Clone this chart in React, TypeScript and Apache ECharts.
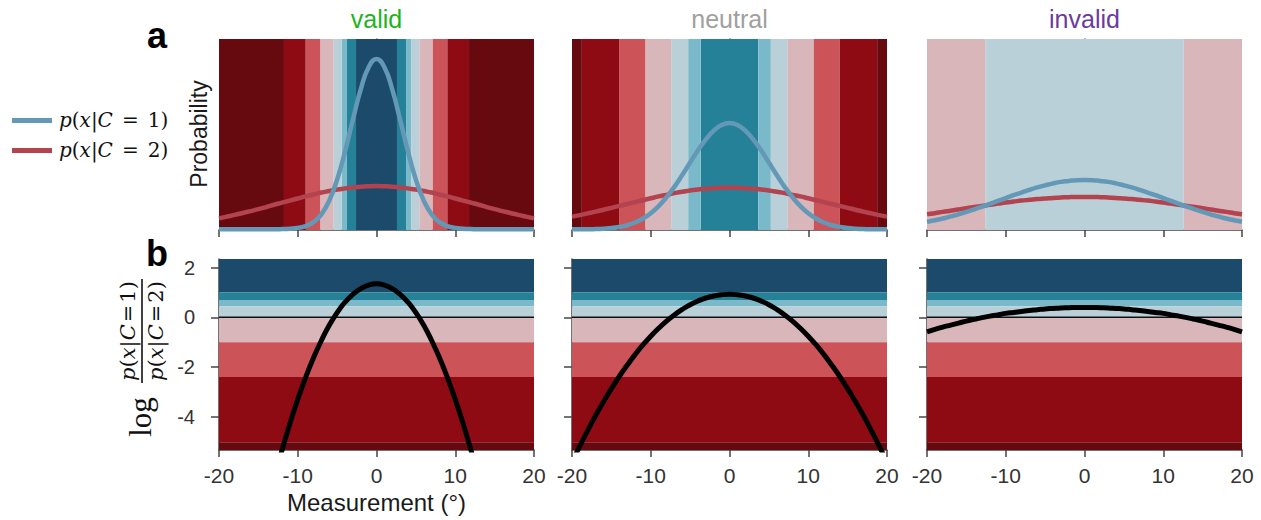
import React, { useEffect, useRef } from "react";
import * as echarts from "echarts";

// sample positions (degrees)
const X = [-20, -19, -18, -17, -16, -15, -14, -13, -12, -11, -10, -9, -8, -7, -6, -5, -4, -3, -2, -1, 0,
  1, 2, 3, 4, 5, 6, 7, 8, 9, 10, 11, 12, 13, 14, 15, 16, 17, 18, 19, 20];

// top row: probability densities (fraction of panel height)
const VALID_BLUE = [0.004, 0.004, 0.004, 0.004, 0.004, 0.004, 0.004, 0.004, 0.005, 0.007, 0.011, 0.020, 0.041, 0.082, 0.154, 0.264, 0.410, 0.577, 0.736, 0.852, 0.895,
  0.852, 0.736, 0.577, 0.410, 0.264, 0.154, 0.082, 0.041, 0.020, 0.011, 0.007, 0.005, 0.004, 0.004, 0.004, 0.004, 0.004, 0.004, 0.004, 0.004];
const VALID_RED = [0.061, 0.070, 0.079, 0.089, 0.099, 0.109, 0.120, 0.132, 0.143, 0.154, 0.165, 0.176, 0.186, 0.196, 0.204, 0.212, 0.218, 0.223, 0.227, 0.229, 0.230,
  0.229, 0.227, 0.223, 0.218, 0.212, 0.204, 0.196, 0.186, 0.176, 0.165, 0.154, 0.143, 0.132, 0.120, 0.109, 0.099, 0.089, 0.079, 0.070, 0.061];
const NEUTRAL_BLUE = [0.004, 0.004, 0.004, 0.005, 0.007, 0.010, 0.016, 0.025, 0.039, 0.060, 0.088, 0.125, 0.172, 0.226, 0.288, 0.353, 0.417, 0.474, 0.520, 0.550, 0.560,
  0.550, 0.520, 0.474, 0.417, 0.353, 0.288, 0.226, 0.172, 0.125, 0.088, 0.060, 0.039, 0.025, 0.016, 0.010, 0.007, 0.005, 0.004, 0.004, 0.004];
const NEUTRAL_RED = [0.070, 0.078, 0.087, 0.096, 0.106, 0.116, 0.126, 0.136, 0.146, 0.156, 0.166, 0.176, 0.184, 0.193, 0.200, 0.207, 0.212, 0.216, 0.219, 0.221, 0.222,
  0.221, 0.219, 0.216, 0.212, 0.207, 0.200, 0.193, 0.184, 0.176, 0.166, 0.156, 0.146, 0.136, 0.126, 0.116, 0.106, 0.096, 0.087, 0.078, 0.070];
const INVALID_BLUE = [0.043, 0.051, 0.060, 0.071, 0.082, 0.095, 0.108, 0.122, 0.137, 0.152, 0.167, 0.182, 0.196, 0.210, 0.223, 0.234, 0.244, 0.252, 0.257, 0.261, 0.262,
  0.261, 0.257, 0.252, 0.244, 0.234, 0.223, 0.210, 0.196, 0.182, 0.167, 0.152, 0.137, 0.122, 0.108, 0.095, 0.082, 0.071, 0.060, 0.051, 0.043];
const INVALID_RED = [0.082, 0.088, 0.095, 0.101, 0.107, 0.114, 0.120, 0.126, 0.132, 0.138, 0.144, 0.149, 0.154, 0.158, 0.162, 0.165, 0.168, 0.170, 0.172, 0.173, 0.173,
  0.173, 0.172, 0.170, 0.168, 0.165, 0.162, 0.158, 0.154, 0.149, 0.144, 0.138, 0.132, 0.126, 0.120, 0.114, 0.107, 0.101, 0.095, 0.088, 0.082];

// bottom row: log likelihood ratio
const VALID_LOG = [-17.25, -15.44, -13.72, -12.09, -10.55, -9.11, -7.76, -6.51, -5.35, -4.28, -3.30, -2.42, -1.63, -0.93, -0.32, 0.19, 0.61, 0.93, 1.16, 1.30, 1.35,
  1.30, 1.16, 0.93, 0.61, 0.19, -0.32, -0.93, -1.63, -2.42, -3.30, -4.28, -5.35, -6.51, -7.76, -9.11, -10.55, -12.09, -13.72, -15.44, -17.25];
const NEUTRAL_LOG = [-5.83, -5.17, -4.55, -3.95, -3.40, -2.87, -2.38, -1.93, -1.50, -1.11, -0.76, -0.44, -0.15, 0.10, 0.32, 0.51, 0.66, 0.78, 0.86, 0.91, 0.93,
  0.91, 0.86, 0.78, 0.66, 0.51, 0.32, 0.10, -0.15, -0.44, -0.76, -1.11, -1.50, -1.93, -2.38, -2.87, -3.40, -3.95, -4.55, -5.17, -5.83];
const INVALID_LOG = [-0.58, -0.48, -0.39, -0.31, -0.23, -0.15, -0.08, -0.01, 0.05, 0.10, 0.16, 0.20, 0.24, 0.28, 0.31, 0.34, 0.36, 0.38, 0.39, 0.40, 0.40,
  0.40, 0.39, 0.38, 0.36, 0.34, 0.31, 0.28, 0.24, 0.20, 0.16, 0.10, 0.05, -0.01, -0.08, -0.15, -0.23, -0.31, -0.39, -0.48, -0.58];

// decision bands
const BAND_COLORS = ["#1c4a6b", "#258197", "#7ab9ca", "#b9d0d8", "#d8b6b9", "#cc5358", "#8e0b14", "#660a10"];
const LEVEL_BOUNDS = [1.0, 0.7, 0.45, 0, -1.0, -2.4, -5.03];
const VALID_EDGES = [2.6, 3.75, 4.4, 5.45, 7.15, 9.0, 11.75];
const NEUTRAL_EDGES = [3.65, 5.25, 7.4, 10.7, 14.0, 18.75];
const INVALID_EDGES = [12.6];
const EDGE_START = [0, 1, 3];

const TITLES = ["valid", "neutral", "invalid"];
const TITLE_COLORS = ["#1fb41f", "#a0a0a0", "#6a3a9f"];
const X_TICKS = [-20, -10, 0, 10, 20];
const LOG_TICKS = [-4, -2, 0, 2];
const LOG_MIN = -5.34;
const LOG_MAX = 2.35;

const BLUE = "#6399b6";
const RED = "#b2434f";

const PANEL_LEFT = [219, 572, 927];
const PANEL_W = 315;
const TOP_Y = 39;
const BOT_Y = 259;
const PANEL_H = 191;

function topBands(edges: number[], start: number) {
  const out: any[] = [];
  const push = (a: number, b: number, lvl: number) =>
    out.push([{ xAxis: a, itemStyle: { color: BAND_COLORS[lvl], opacity: 1, borderWidth: 0 } }, { xAxis: b }]);
  push(-edges[0], edges[0], start);
  for (let j = 1; j < edges.length; j++) {
    push(-edges[j], -edges[j - 1], start + j);
    push(edges[j - 1], edges[j], start + j);
  }
  const n = edges.length;
  push(X[0], -edges[n - 1], start + n);
  push(edges[n - 1], X[X.length - 1], start + n);
  return out;
}

function bottomBands() {
  const out: any[] = [];
  for (let k = 0; k < BAND_COLORS.length; k++) {
    const hi = k === 0 ? LOG_MAX : LEVEL_BOUNDS[k - 1];
    const lo = k === BAND_COLORS.length - 1 ? LOG_MIN : LEVEL_BOUNDS[k];
    out.push([{ yAxis: lo, itemStyle: { color: BAND_COLORS[k], opacity: 1, borderWidth: 0 } }, { yAxis: hi }]);
  }
  return out;
}

const pairs = (ys: number[]) => X.map((x, i) => [x, ys[i]]);

export default function App() {
  const ref = useRef<HTMLDivElement>(null);
  useEffect(() => {
    if (!ref.current) return;
    const chart = echarts.init(ref.current, undefined, { renderer: "svg" });
    const axisColor = "#444";
    const sans = '"Liberation Sans", Arial, sans-serif';
    const grids: any[] = [];
    const xAxes: any[] = [];
    const yAxes: any[] = [];
    for (let r = 0; r < 2; r++) {
      for (let c = 0; c < 3; c++) {
        const idx = r * 3 + c;
        grids.push({
          left: PANEL_LEFT[c], top: r === 0 ? TOP_Y : BOT_Y, width: PANEL_W, height: PANEL_H,
          containLabel: false, outerBoundsMode: "none",
        });
        xAxes.push({
          gridIndex: idx, type: "value", min: X_TICKS[0], max: X_TICKS[X_TICKS.length - 1], interval: 10,
          axisLine: { show: true, onZero: false, lineStyle: { color: axisColor, width: 1.5 } },
          axisTick: { show: true, length: 7, lineStyle: { color: axisColor, width: 1.5 } },
          axisLabel: {
            show: r === 1, fontSize: 21, lineHeight: 21, color: "#333", margin: 15, fontFamily: sans,
            showMinLabel: true, showMaxLabel: true,
          },
          splitLine: { show: false },
        });
        if (r === 0) {
          yAxes.push({
            gridIndex: idx, type: "value", min: 0, max: 1,
            axisLine: { show: true, lineStyle: { color: axisColor, width: 1.5 } },
            axisTick: { show: false }, axisLabel: { show: false }, splitLine: { show: false },
          });
        } else {
          yAxes.push({
            gridIndex: idx, type: "value", min: LOG_MIN, max: LOG_MAX,
            axisLine: { show: true, onZero: false, lineStyle: { color: axisColor, width: 1.5 } },
            axisTick: { show: true, length: 8, customValues: LOG_TICKS, lineStyle: { color: axisColor, width: 1.5 } },
            axisLabel: { show: c === 0, customValues: LOG_TICKS, fontSize: 20, color: "#333", margin: 24, fontFamily: sans },
            splitLine: { show: false },
          });
        }
      }
    }

    const tops = [
      { blue: VALID_BLUE, red: VALID_RED, edges: VALID_EDGES },
      { blue: NEUTRAL_BLUE, red: NEUTRAL_RED, edges: NEUTRAL_EDGES },
      { blue: INVALID_BLUE, red: INVALID_RED, edges: INVALID_EDGES },
    ];
    const logs = [VALID_LOG, NEUTRAL_LOG, INVALID_LOG];
    const series: any[] = [];
    for (let c = 0; c < 3; c++) {
      series.push({
        type: "line", xAxisIndex: c, yAxisIndex: c, z: 1, silent: true, showSymbol: false,
        data: [[X[0], 0], [X[X.length - 1], 0]], lineStyle: { opacity: 0 },
        markArea: { silent: true, label: { show: false }, data: topBands(tops[c].edges, EDGE_START[c]) },
      });
      series.push({
        type: "line", xAxisIndex: c, yAxisIndex: c, z: 3, silent: true, showSymbol: false, smooth: true,
        data: pairs(tops[c].red), lineStyle: { color: RED, width: 4.5 },
      });
      series.push({
        type: "line", xAxisIndex: c, yAxisIndex: c, z: 4, silent: true, showSymbol: false, smooth: true,
        data: pairs(tops[c].blue), lineStyle: { color: BLUE, width: 4.5 },
      });
      const b = c + 3;
      series.push({
        type: "line", xAxisIndex: b, yAxisIndex: b, z: 1, silent: true, showSymbol: false,
        data: [[X[0], 0], [X[X.length - 1], 0]], lineStyle: { opacity: 0 },
        markArea: { silent: true, label: { show: false }, data: bottomBands() },
      });
      series.push({
        type: "line", xAxisIndex: b, yAxisIndex: b, z: 2, silent: true, showSymbol: false,
        data: [[X[0], 0], [X[X.length - 1], 0]], lineStyle: { color: "#111", width: 1.5 },
      });
      series.push({
        type: "line", xAxisIndex: b, yAxisIndex: b, z: 5, silent: true, showSymbol: false, smooth: true, clip: true,
        data: pairs(logs[c]), lineStyle: { color: "#000", width: 5 },
      });
    }

    const serif = '"DejaVu Serif", serif';
    const italic = { fontFamily: serif, fontStyle: "italic", fontSize: 20, fill: "#111" };
    const upright = { fontFamily: serif, fontSize: 20, fill: "#111" };
    const legendRich = {
      i: italic,
      r: upright,
      e: { ...upright, padding: [0, 9] },
    };
    const fracRich = {
      i: { ...italic, fontSize: 21 },
      r: { ...upright, fontSize: 21 },
      e: { ...upright, fontSize: 21, padding: [0, 2] },
    };

    const graphic: any[] = [];
    for (let c = 0; c < 3; c++) {
      graphic.push({
        type: "text", x: PANEL_LEFT[c] + PANEL_W / 2, y: 19, silent: true,
        style: { text: TITLES[c], fill: TITLE_COLORS[c], font: `25px ${sans}`, align: "center", verticalAlign: "middle", textAlign: "center", textVerticalAlign: "middle" },
      });
    }
    graphic.push(
      { type: "text", x: 157, y: 35, silent: true, style: { text: "a", fill: "#000", font: `bold 36px ${sans}`, align: "center", verticalAlign: "middle", textAlign: "center", textVerticalAlign: "middle" } },
      { type: "text", x: 157, y: 253, silent: true, style: { text: "b", fill: "#000", font: `bold 36px ${sans}`, align: "center", verticalAlign: "middle", textAlign: "center", textVerticalAlign: "middle" } },
      { type: "text", x: 199, y: 134, rotation: Math.PI / 2, silent: true, style: { text: "Probability", fill: "#1a1a1a", font: `23px ${sans}`, align: "center", verticalAlign: "middle", textAlign: "center", textVerticalAlign: "middle" } },
      { type: "text", x: PANEL_LEFT[0] + PANEL_W / 2, y: 502, silent: true, style: { text: "Measurement (°)", fill: "#1a1a1a", font: `24px ${sans}`, lineHeight: 24, align: "center", verticalAlign: "middle", textAlign: "center", textVerticalAlign: "middle" } },
      { type: "line", silent: true, shape: { x1: 12, y1: 120.5, x2: 52, y2: 120.5 }, style: { stroke: BLUE, lineWidth: 5 } },
      { type: "line", silent: true, shape: { x1: 12, y1: 150.5, x2: 52, y2: 150.5 }, style: { stroke: RED, lineWidth: 5 } },
      { type: "text", x: 59, y: 120, silent: true, style: { text: "{i|p}{r|(}{i|x}{r||}{i|C}{e|=}{r|1)}", rich: legendRich, align: "left", verticalAlign: "middle", textAlign: "left", textVerticalAlign: "middle" } },
      { type: "text", x: 59, y: 150, silent: true, style: { text: "{i|p}{r|(}{i|x}{r||}{i|C}{e|=}{r|2)}", rich: legendRich, align: "left", verticalAlign: "middle", textAlign: "left", textVerticalAlign: "middle" } },
      {
        type: "group", x: 142, y: 331, rotation: Math.PI / 2, silent: true,
        children: [
          { type: "text", x: 0, y: -14, style: { text: "{i|p}{r|(}{i|x}{r||}{i|C}{e|=}{r|1)}", rich: fracRich, align: "center", verticalAlign: "middle", textAlign: "center", textVerticalAlign: "middle" } },
          { type: "text", x: 0, y: 14, style: { text: "{i|p}{r|(}{i|x}{r||}{i|C}{e|=}{r|2)}", rich: fracRich, align: "center", verticalAlign: "middle", textAlign: "center", textVerticalAlign: "middle" } },
          { type: "line", shape: { x1: -52, y1: 0, x2: 52, y2: 0 }, style: { stroke: "#111", lineWidth: 1.6 } },
          { type: "text", x: -86, y: -2, style: { text: "log", fill: "#111", font: '31px "Liberation Serif", serif', align: "center", verticalAlign: "middle", textAlign: "center", textVerticalAlign: "middle" } },
        ],
      }
    );

    chart.setOption({
      animation: false,
      backgroundColor: "#ffffff",
      grid: grids,
      xAxis: xAxes,
      yAxis: yAxes,
      series,
      graphic,
    });
    return () => chart.dispose();
  }, []);
  return <div ref={ref} style={{ position: "fixed", left: 0, top: 0, width: 1261, height: 520 }} />;
}
